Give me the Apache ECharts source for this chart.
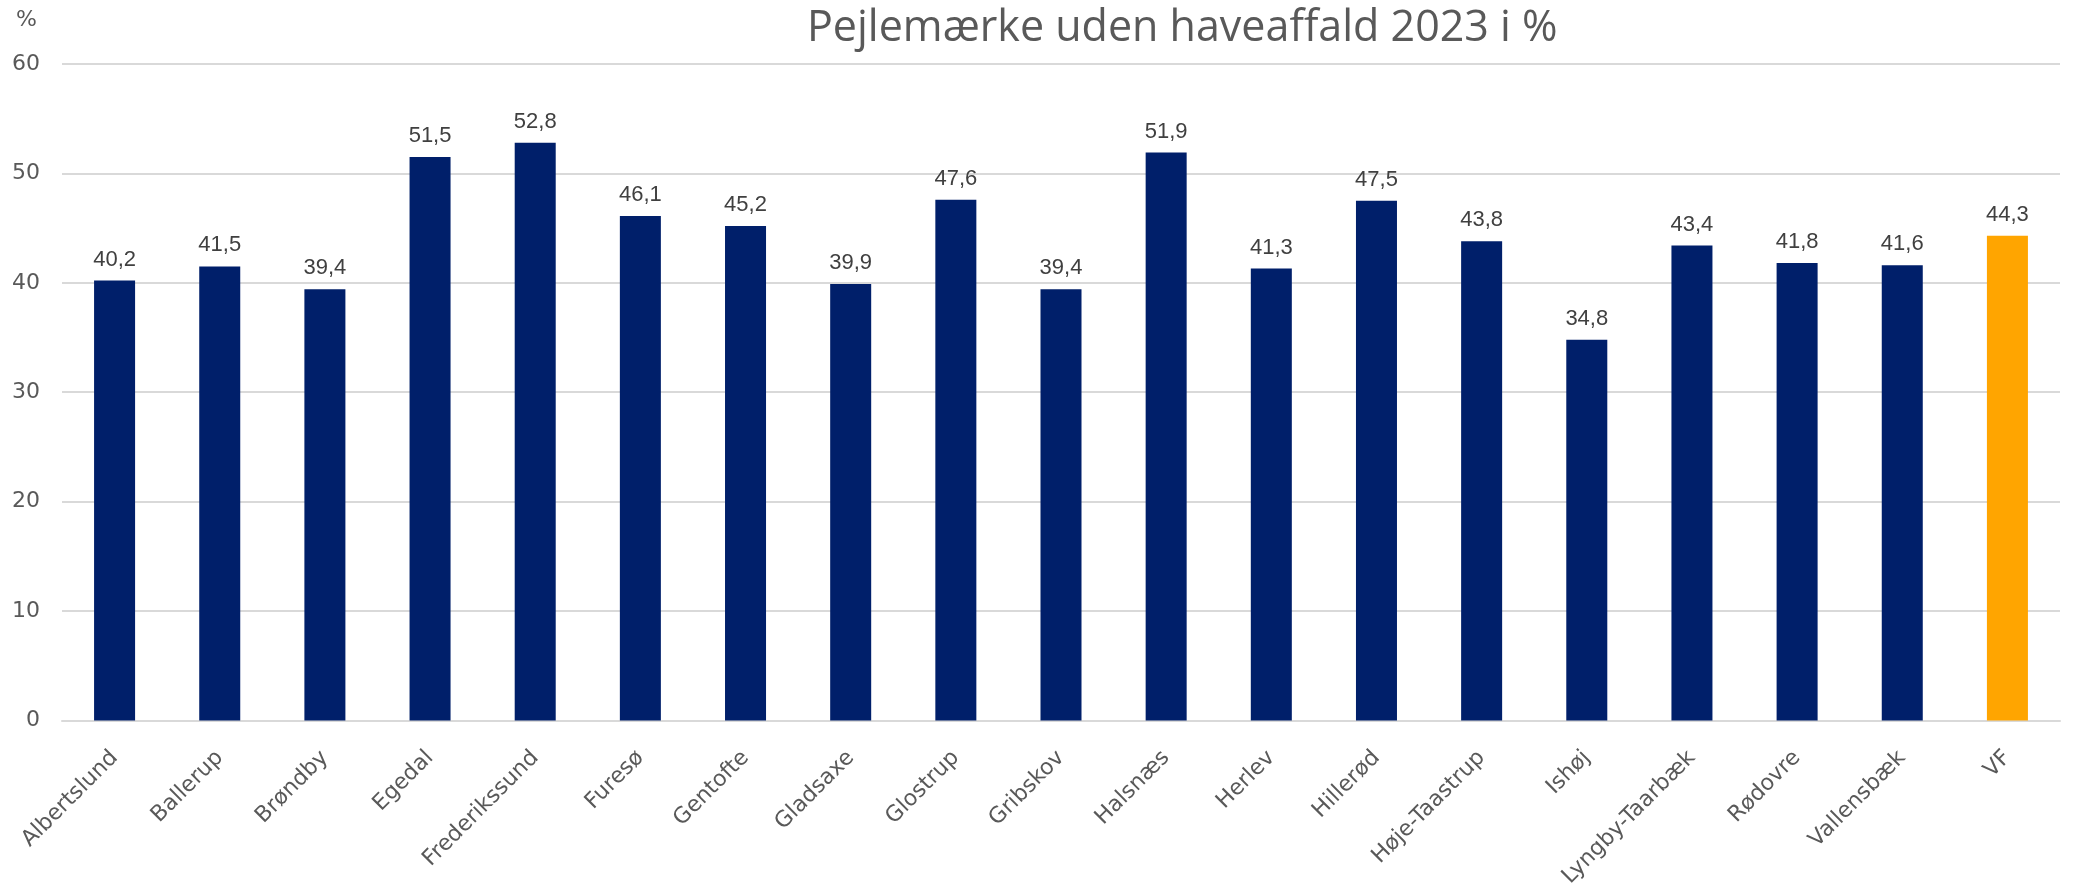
<!DOCTYPE html>
<html>
<head>
<meta charset="utf-8">
<script src="https://cdn.jsdelivr.net/npm/echarts@6/dist/echarts.min.js"></script>
<style>
html,body{margin:0;padding:0;background:#fff;}
#chart{width:2078px;height:890px;}
</style>
</head>
<body>
<div id="chart"></div>
<script>
const categories = ["Albertslund","Ballerup","Brøndby","Egedal","Frederikssund","Furesø","Gentofte","Gladsaxe","Glostrup","Gribskov","Halsnæs","Herlev","Hillerød","Høje-Taastrup","Ishøj","Lyngby-Taarbæk","Rødovre","Vallensbæk","VF"];
const values = [40.2,41.5,39.4,51.5,52.8,46.1,45.2,39.9,47.6,39.4,51.9,41.3,47.5,43.8,34.8,43.4,41.8,41.6,44.3];
const yTicks = [0,10,20,30,40,50,60];
const titleText = "Pejlemærke uden haveaffald 2023 i %";
const unitText = "%";
const highlightCategory = "VF";

const chart = echarts.init(document.getElementById('chart'), null, {renderer:'canvas'});
const option = {
  animation:false,
  backgroundColor:'#ffffff',
  title:[
    {text:titleText, left:802, top:2,
     textStyle:{fontFamily:'"Open Sans", "Liberation Sans", sans-serif', fontSize:43, fontWeight:'normal', color:'#595959'}},
    {text:unitText, left:11, top:4,
     textStyle:{fontFamily:'"DejaVu Sans", sans-serif', fontSize:22, fontWeight:'normal', color:'#595959'}}
  ],
  grid:{left:62, right:18, top:64, bottom:168, containLabel:false},
  xAxis:{
    type:'category',
    data:categories,
    axisLine:{show:true, lineStyle:{color:'#D9D9D9', width:2}},
    axisTick:{show:false},
    axisLabel:{rotate:45, interval:0, margin:34, color:'#595959', fontSize:22, fontFamily:'"DejaVu Sans", sans-serif'}
  },
  yAxis:{
    type:'value',
    min:yTicks[0], max:yTicks[yTicks.length-1], interval:yTicks[1]-yTicks[0],
    axisLine:{show:false}, axisTick:{show:false},
    splitLine:{lineStyle:{color:'#D9D9D9', width:2}},
    axisLabel:{margin:22, color:'#595959', fontSize:22, fontFamily:'"DejaVu Sans", sans-serif'}
  },
  series:[{
    type:'bar',
    barCategoryGap:'61%',
    data:values.map((v,i)=>({value:v, itemStyle:{color: categories[i]===highlightCategory ? '#FFA500' : '#001F6A'}})),
    label:{show:true, position:'top', distance:10, color:'#404040', fontSize:22,
      fontFamily:'"Liberation Sans", Arial, sans-serif',
      formatter:p=>p.value.toFixed(1).replace('.',',')}
  }]
};
chart.setOption(option);
</script>
</body>
</html>
